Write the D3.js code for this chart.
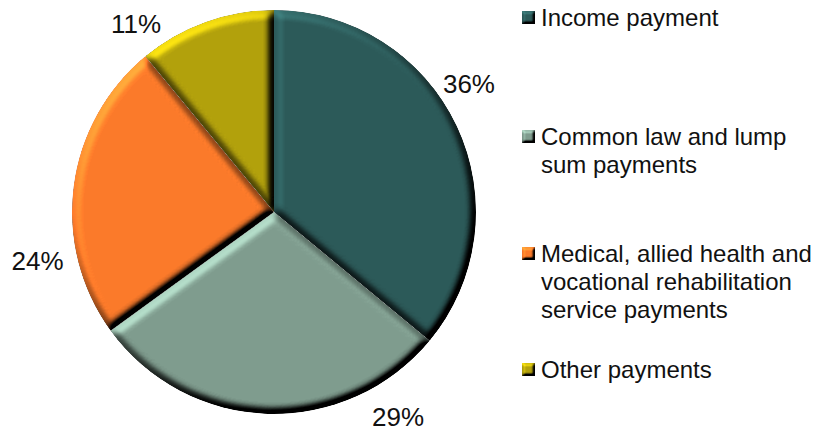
<!DOCTYPE html>
<html>
<head>
<meta charset="utf-8">
<script src="https://cdn.jsdelivr.net/npm/d3@7"></script>
<style>
  html, body { margin: 0; padding: 0; background: #fff; }
  svg { display: block; }
  text { font-family: "Liberation Sans", Arial, sans-serif; fill: #111; }
</style>
</head>
<body>
<svg id="chart" width="825" height="430"></svg>
<script>
// ---- data ----
const categories = [
  "Income payment",
  "Common law and lump sum payments",
  "Medical, allied health and vocational rehabilitation service payments",
  "Other payments"
];
const values = [36, 29, 24, 11];
const legendLines = [
  ["Income payment"],
  ["Common law and lump", "sum payments"],
  ["Medical, allied health and", "vocational rehabilitation", "service payments"],
  ["Other payments"]
];
const colors = ["#2C5A59", "#7F9C8E", "#FB7A2A", "#B2A10C"];

// ---- layout ----
const cx = 274, cy = 212, r = 202;
// label placement (polar, degrees clockwise from top, distance in radius units)
const labelAngle = [56.6, 148.8, 258.4, 323.7];
const labelDist = [1.156, 1.186, 1.195, 1.154];

const svg = d3.select("#chart");
const defs = svg.append("defs");

function bevel(id, std, scale) {
  const f = defs.append("filter").attr("id", id)
    .attr("x", "-5%").attr("y", "-5%").attr("width", "110%").attr("height", "110%")
    .attr("color-interpolation-filters", "sRGB");
  f.append("feGaussianBlur").attr("in", "SourceAlpha").attr("stdDeviation", std).attr("result", "blur");
  const dl = f.append("feDiffuseLighting").attr("in", "blur").attr("surfaceScale", scale)
    .attr("diffuseConstant", 1).attr("lighting-color", "#fff").attr("result", "light");
  dl.append("feDistantLight").attr("azimuth", 235).attr("elevation", 45);
  f.append("feComposite").attr("in", "SourceGraphic").attr("in2", "light")
    .attr("operator", "arithmetic").attr("k1", 1.414).attr("k2", 0).attr("k3", 0).attr("k4", 0).attr("result", "lit");
  f.append("feComposite").attr("in", "lit").attr("in2", "SourceAlpha").attr("operator", "in");
}
bevel("bevel", 4, 9);
bevel("bevelSmall", 1.5, 4);

const pie = d3.pie().sort(null).value(d => d)
  .startAngle(0).endAngle(2 * Math.PI);
const arcs = pie(values);
const arc = d3.arc().innerRadius(0).outerRadius(r);

const g = svg.append("g").attr("transform", `translate(${cx},${cy})`);
g.selectAll("path.slice").data(arcs).join("path")
  .attr("class", "slice")
  .attr("d", arc)
  .attr("fill", (d, i) => colors[i])
  .attr("filter", "url(#bevel)");

const total = d3.sum(values);
const labelSize = 26;
g.selectAll("text.pct").data(arcs).join("text")
  .attr("class", "pct")
  .attr("x", (d, i) => Math.sin(labelAngle[i] * Math.PI / 180) * r * labelDist[i])
  .attr("y", (d, i) => -Math.cos(labelAngle[i] * Math.PI / 180) * r * labelDist[i] + labelSize * 0.358)
  .attr("text-anchor", "middle")
  .style("font-size", labelSize + "px")
  .text(d => Math.round(d.value / total * 100) + "%");

// ---- legend ----
const legendX = 522, lineH = 28;
const legendBase = [26, 145, 262, 378];
const lg = svg.append("g");
legendLines.forEach((lines, i) => {
  const item = lg.append("g");
  item.append("rect")
    .attr("x", legendX).attr("y", legendBase[i] - 15)
    .attr("width", 13).attr("height", 13)
    .attr("fill", colors[i])
    .attr("filter", "url(#bevelSmall)");
  const t = item.append("text")
    .attr("x", legendX + 19).attr("y", legendBase[i])
    .style("font-size", "24px");
  lines.forEach((ln, j) => {
    t.append("tspan").attr("x", legendX + 19).attr("y", legendBase[i] + j * lineH).text(ln);
  });
});
</script>
</body>
</html>
